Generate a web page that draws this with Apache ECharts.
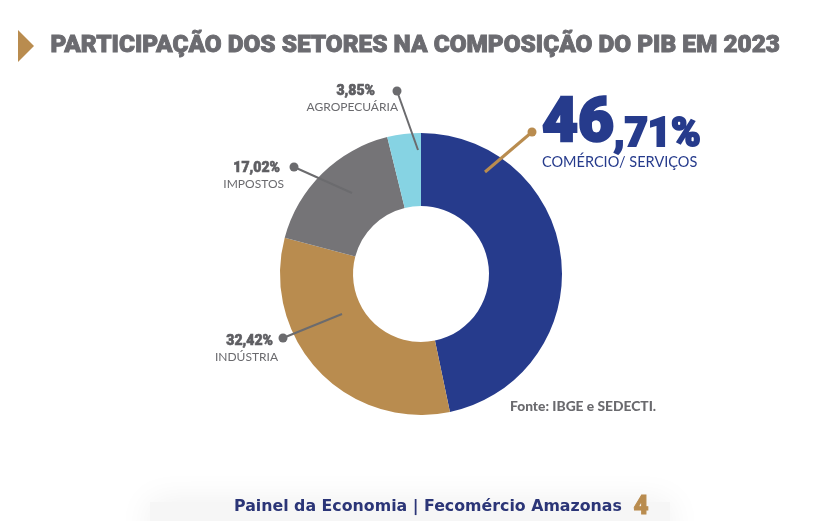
<!DOCTYPE html>
<html>
<head>
<meta charset="utf-8">
<script src="https://cdn.jsdelivr.net/npm/echarts@6/dist/echarts.min.js"></script>
<style>
  html, body { margin: 0; padding: 0; background: #fff; }
  #chart { width: 818px; height: 521px; }
</style>
</head>
<body>
<div id="chart"></div>
<script>
// data
const sectors = ['COMÉRCIO/ SERVIÇOS', 'INDÚSTRIA', 'IMPOSTOS', 'AGROPECUÁRIA']
const shares = [46.71, 32.42, 17.02, 3.85]
const sectorColors = ['#263b8c', '#b98c4f', '#757477', '#86d3e3']

const titleText = 'PARTICIPAÇÃO DOS SETORES NA COMPOSIÇÃO DO PIB EM 2023'
const sourceText = 'Fonte: IBGE e SEDECTI.'
const footerText = 'Painel da Economia | Fecomércio Amazonas'
const pageNumber = '4'

// where each callout sits (layout only)
const callouts = [
  { from: [485, 172], dot: [532, 132], x: 542, y: 106, align: 'left', big: true },
  { from: [342, 314], dot: [283, 338], x: 278, y: 349, align: 'right', pad: 5 },
  { from: [352, 193], dot: [294, 167], x: 284, y: 176, align: 'right', pad: 4 },
  { from: [418, 150], dot: [397, 91], x: 398, y: 99, align: 'right', pad: 23 },
]

const BLUE = '#263b8c'
const TAN = '#b98c4f'
const GREY_TEXT = '#5e5e62'
const LINE_GREY = '#6b6b6e'

function fmt(v) {
  return v.toFixed(2).replace('.', ',') + '%'
}

const chart = echarts.init(document.getElementById('chart'), null, { renderer: 'canvas' })

const pieData = sectors.map((name, i) => {
  const c = callouts[i]
  return {
    name,
    value: shares[i],
    itemStyle: { color: sectorColors[i] },
    label: c.big
      ? {
          formatter: () => {
            const parts = fmt(shares[i]).split(',')
            return `{big|${parts[0]}}{mid|,${parts[1]}}\n{cat|${name}}`
          },
          align: 'left',
        }
      : {
          formatter: () => `{val|${fmt(shares[i])}}\n{nm|${name}}`,
          align: 'right',
          rich: {
            val: {
              fontFamily: 'Roboto', fontWeight: 900, fontSize: 14, color: GREY_TEXT,
              textBorderColor: GREY_TEXT, textBorderWidth: 0.6,
              align: 'right', lineHeight: 17, padding: [0, c.pad, 0, 0],
            },
            nm: {
              fontFamily: 'Lato', fontSize: 12, color: '#6a6a6e', align: 'right', lineHeight: 16,
            },
          },
        },
  }
})

const option = {
  backgroundColor: '#fff',
  animation: false,
  graphic: [
    {
      type: 'polygon',
      shape: { points: [[18, 30], [34, 46], [18, 62]] },
      style: { fill: TAN },
    },
    {
      type: 'text',
      left: 50,
      top: 33,
      style: {
        text: titleText,
        fontFamily: 'Roboto',
        fontWeight: 900,
        fontSize: 24.4,
        fill: '#6b6b70',
        stroke: '#6b6b70',
        lineWidth: 0.9,
      },
    },
    {
      type: 'text',
      left: 510,
      top: 400,
      style: {
        text: sourceText,
        fontFamily: 'Lato',
        fontWeight: 900,
        fontSize: 13.8,
        fill: '#6a6a6e',
      },
    },
    {
      type: 'rect',
      shape: { x: 150, y: 502, width: 520, height: 40 },
      style: { fill: '#f6f6f6', shadowBlur: 34, shadowColor: 'rgba(0,0,0,0.07)' },
      z: -1,
    },
    {
      type: 'text',
      left: 234,
      top: 499,
      style: {
        text: footerText,
        fontFamily: 'DejaVu Sans',
        fontWeight: 700,
        fontSize: 15.8,
        fill: '#2b3577',
      },
    },
    {
      type: 'text',
      left: 633,
      top: 494,
      style: {
        text: pageNumber,
        fontFamily: 'Roboto',
        fontWeight: 900,
        fontSize: 26,
        fill: TAN,
        stroke: TAN,
        lineWidth: 1,
      },
    },
    ...callouts.map(c => ({
      type: 'polyline',
      shape: { points: [c.from, c.dot] },
      style: { stroke: c.big ? TAN : LINE_GREY, lineWidth: c.big ? 3 : 2 },
      z: 10,
    })),
    ...callouts.map(c => ({
      type: 'circle',
      shape: { cx: c.dot[0], cy: c.dot[1], r: 4.5 },
      style: { fill: c.big ? TAN : LINE_GREY },
      z: 11,
    })),
  ],
  series: [
    {
      type: 'pie',
      center: [421, 274],
      radius: [68, 141],
      startAngle: 90,
      clockwise: true,
      avoidLabelOverlap: false,
      silent: true,
      itemStyle: { borderWidth: 0 },
      labelLine: { show: false },
      label: {
        show: true,
        rich: {
          big: {
            fontFamily: 'Roboto', fontWeight: 900, fontSize: 62, color: BLUE,
            textBorderColor: BLUE, textBorderWidth: 2.5,
            lineHeight: 50, verticalAlign: 'bottom',
          },
          mid: {
            fontFamily: 'Roboto', fontWeight: 900, fontSize: 40, color: BLUE,
            textBorderColor: BLUE, textBorderWidth: 2,
            lineHeight: 50, verticalAlign: 'bottom',
          },
          cat: {
            fontFamily: 'Lato', fontSize: 14.5, color: BLUE, lineHeight: 12,
          },
        },
      },
      labelLayout: (params) => {
        const c = callouts[params.dataIndex]
        return {
          x: c.x,
          y: c.y,
          align: c.align,
          verticalAlign: c.big ? 'top' : 'middle',
        }
      },
      data: pieData,
    },
  ],
}

chart.setOption(option)
</script>
</body>
</html>
